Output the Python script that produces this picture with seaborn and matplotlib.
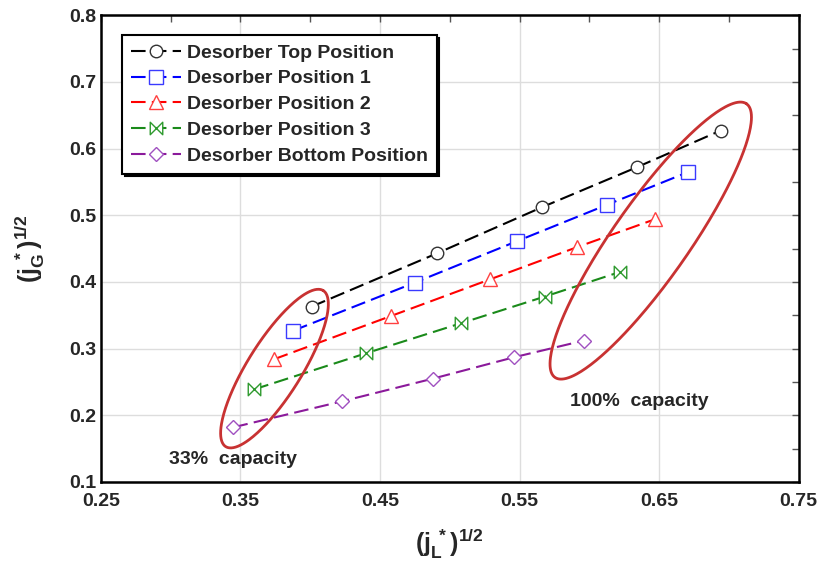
import numpy as np
import pandas as pd
import seaborn as sns
import matplotlib.pyplot as plt
from matplotlib.path import Path

sns.set_theme(style="whitegrid")
plt.rcParams["font.family"] = ["Liberation Sans", "DejaVu Sans"]
plt.rcParams["font.weight"] = "bold"
plt.rcParams["mathtext.fontset"] = "custom"
plt.rcParams["mathtext.rm"] = "Liberation Sans:bold"
plt.rcParams["mathtext.it"] = "Liberation Sans:bold"
plt.rcParams["mathtext.bf"] = "Liberation Sans:bold"
plt.rcParams["mathtext.default"] = "bf"

# data
series_names = ["Desorber Top Position", "Desorber Position 1", "Desorber Position 2",
                "Desorber Position 3", "Desorber Bottom Position"]
top_x = [0.401, 0.491, 0.566, 0.634, 0.694]
top_y = [0.363, 0.443, 0.512, 0.572, 0.627]
p1_x = [0.388, 0.475, 0.548, 0.613, 0.671]
p1_y = [0.327, 0.399, 0.461, 0.516, 0.565]
p2_x = [0.374, 0.458, 0.529, 0.591, 0.647]
p2_y = [0.284, 0.349, 0.404, 0.452, 0.494]
p3_x = [0.360, 0.440, 0.508, 0.568, 0.622]
p3_y = [0.239, 0.293, 0.338, 0.378, 0.415]
bot_x = [0.345, 0.423, 0.488, 0.546, 0.596]
bot_y = [0.182, 0.221, 0.255, 0.287, 0.312]

xs = [top_x, p1_x, p2_x, p3_x, bot_x]
ys = [top_y, p1_y, p2_y, p3_y, bot_y]

# bowtie marker
bowtie = Path([(-1, 1), (-1, -1), (1, 1), (1, -1), (-1, 1)],
              [Path.MOVETO, Path.LINETO, Path.LINETO, Path.LINETO, Path.CLOSEPOLY])

line_colors = ["#000000", "#0000ff", "#ff0000", "#1a8a1a", "#8b1a9b"]
edge_colors = ["#333333", "#3a3aff", "#ff4040", "#2e9a2e", "#a050c0"]
markers = ["o", "s", "^", bowtie, "D"]
msizes = [9, 10, 10, 9, 7.5]

fig = plt.figure(figsize=(8.2, 5.65), dpi=100)
ax = fig.add_axes([0.123, 0.147, 0.851, 0.826])

for name, x, y, lc, ec, m, ms in zip(series_names, xs, ys, line_colors, edge_colors, markers, msizes):
    df = pd.DataFrame({"x": x, "y": y})
    sns.lineplot(data=df, x="x", y="y", ax=ax, sort=False, errorbar=None,
                 color=lc, linestyle=(0, (7, 3)), linewidth=1.5,
                 marker=m, markersize=ms, markerfacecolor="white",
                 markeredgecolor=ec, markeredgewidth=1.0, label=name)

ax.set_xlim(0.25, 0.75)
ax.set_ylim(0.1, 0.8)
ax.set_xticks(np.arange(0.25, 0.76, 0.1))
ax.set_xticks(np.arange(0.30, 0.75, 0.1), minor=True)
ax.set_yticks(np.arange(0.1, 0.81, 0.1))
ax.set_yticks(np.arange(0.15, 0.8, 0.1), minor=True)
ax.set_xticklabels(["0.25", "0.35", "0.45", "0.55", "0.65", "0.75"])
ax.set_yticklabels(["0.1", "0.2", "0.3", "0.4", "0.5", "0.6", "0.7", "0.8"])
ax.tick_params(which="both", direction="in", top=True, right=True, length=5,
               width=1, color="#555555", labelsize=14)
ax.tick_params(axis="x", pad=8)
ax.grid(True, which="major", color="#dddddd", linewidth=1)
ax.grid(False, which="minor")
for s in ax.spines.values():
    s.set_color("black")
    s.set_linewidth(1.8)

ax.set_xlabel(r"$(j_L^{\ *})^{1/2}$", fontsize=18, labelpad=12)
ax.set_ylabel(r"$(j_G^{\ *})^{1/2}$", fontsize=18, labelpad=16)

leg = ax.legend(loc="upper left", bbox_to_anchor=(0.03, 0.957), borderaxespad=0,
                fancybox=False, shadow={"color": "black", "alpha": 1},
                edgecolor="black", framealpha=1, fontsize=14,
                handlelength=2.6, labelspacing=0.42, borderpad=0.45, handletextpad=0.3)
leg.get_frame().set_linewidth(1.5)

# capacity ellipses, drawn in pixel space
fig.canvas.draw()
bb = ax.get_window_extent()
sx = bb.width / 0.5
sy = bb.height / 0.7
t = np.linspace(0, 2 * np.pi, 300)
for cx, cy, a, b, ang in [(0.3744, 0.270, 92, 27, 58), (0.644, 0.462, 167, 38, 55)]:
    th = np.deg2rad(ang)
    px = a * np.cos(t) * np.cos(th) - b * np.sin(t) * np.sin(th)
    py = a * np.cos(t) * np.sin(th) + b * np.sin(t) * np.cos(th)
    ax.plot(cx + px / sx, cy + py / sy, color="#c83232", linewidth=2.0, clip_on=False)

ax.text(0.345, 0.133, "33%  capacity", fontsize=14, ha="center", va="center")
ax.text(0.636, 0.220, "100%  capacity", fontsize=14, ha="center", va="center")

fig.savefig("out.png", dpi=100)
